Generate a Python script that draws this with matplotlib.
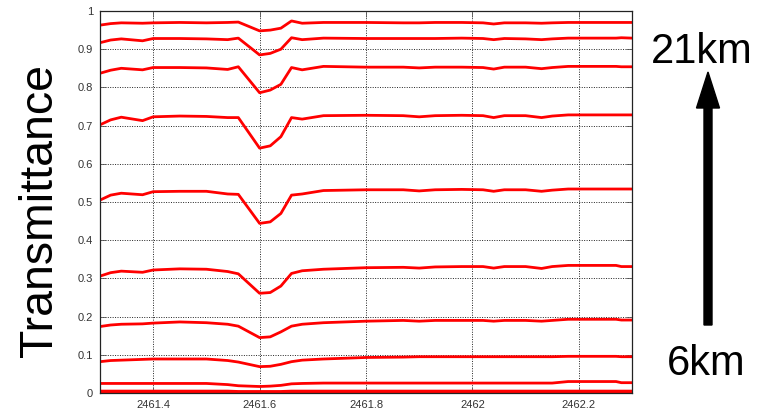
import matplotlib
matplotlib.use("Agg")
import matplotlib.pyplot as plt
from matplotlib.patches import FancyArrow

plt.rcParams['font.family'] = ['Liberation Sans', 'DejaVu Sans']

# wavenumber samples (shared by all curves)
wn = [2461.30, 2461.32, 2461.34, 2461.38, 2461.40, 2461.45, 2461.50, 2461.54,
      2461.56, 2461.60, 2461.62, 2461.64, 2461.66, 2461.68, 2461.72, 2461.80,
      2461.87, 2461.90, 2461.93, 2461.98, 2462.02, 2462.04, 2462.06, 2462.10,
      2462.13, 2462.15, 2462.18, 2462.27, 2462.28, 2462.30]

# transmittance curves, highest altitude first
t10 = [0.963, 0.967, 0.969, 0.968, 0.969, 0.970, 0.969, 0.970, 0.971, 0.948,
       0.950, 0.955, 0.974, 0.968, 0.970, 0.970, 0.969, 0.969, 0.970, 0.970,
       0.969, 0.966, 0.969, 0.969, 0.968, 0.969, 0.970, 0.970, 0.970, 0.970]
t9 = [0.917, 0.924, 0.927, 0.922, 0.928, 0.928, 0.927, 0.925, 0.929, 0.885,
      0.889, 0.900, 0.930, 0.925, 0.929, 0.928, 0.928, 0.928, 0.928, 0.929,
      0.928, 0.925, 0.928, 0.927, 0.925, 0.927, 0.929, 0.929, 0.930, 0.929]
t8 = [0.837, 0.845, 0.850, 0.846, 0.852, 0.852, 0.851, 0.847, 0.854, 0.786,
      0.793, 0.808, 0.852, 0.846, 0.855, 0.853, 0.853, 0.851, 0.853, 0.853,
      0.852, 0.848, 0.853, 0.853, 0.849, 0.852, 0.855, 0.855, 0.854, 0.854]
t7 = [0.702, 0.715, 0.722, 0.713, 0.723, 0.725, 0.724, 0.721, 0.721, 0.641,
      0.647, 0.671, 0.721, 0.717, 0.726, 0.727, 0.726, 0.723, 0.726, 0.727,
      0.726, 0.721, 0.726, 0.726, 0.721, 0.725, 0.728, 0.728, 0.728, 0.728]
t6 = [0.505, 0.518, 0.523, 0.519, 0.527, 0.528, 0.528, 0.521, 0.520, 0.444,
      0.448, 0.470, 0.518, 0.521, 0.530, 0.532, 0.532, 0.529, 0.532, 0.533,
      0.532, 0.528, 0.532, 0.532, 0.528, 0.531, 0.534, 0.534, 0.534, 0.534]
t5 = [0.306, 0.315, 0.319, 0.316, 0.322, 0.325, 0.324, 0.318, 0.312, 0.261,
      0.263, 0.280, 0.313, 0.320, 0.324, 0.328, 0.329, 0.327, 0.330, 0.331,
      0.331, 0.327, 0.331, 0.331, 0.326, 0.331, 0.334, 0.334, 0.331, 0.331]
t4 = [0.174, 0.178, 0.180, 0.181, 0.183, 0.186, 0.184, 0.180, 0.175, 0.145,
      0.147, 0.160, 0.175, 0.180, 0.184, 0.188, 0.190, 0.188, 0.190, 0.190,
      0.190, 0.188, 0.190, 0.190, 0.188, 0.190, 0.193, 0.193, 0.191, 0.191]
t3 = [0.082, 0.085, 0.086, 0.088, 0.089, 0.089, 0.089, 0.085, 0.081, 0.069,
      0.070, 0.075, 0.082, 0.086, 0.089, 0.093, 0.094, 0.095, 0.095, 0.095,
      0.095, 0.095, 0.095, 0.095, 0.095, 0.095, 0.096, 0.096, 0.095, 0.095]
t2 = [0.025, 0.025, 0.025, 0.025, 0.025, 0.025, 0.025, 0.022, 0.019, 0.017,
      0.018, 0.020, 0.024, 0.025, 0.026, 0.026, 0.026, 0.026, 0.026, 0.026,
      0.026, 0.026, 0.026, 0.026, 0.026, 0.026, 0.030, 0.030, 0.027, 0.027]
t1 = [0.005, 0.005, 0.005, 0.005, 0.005, 0.005, 0.005, 0.005, 0.004, 0.004,
      0.004, 0.004, 0.005, 0.005, 0.005, 0.005, 0.005, 0.005, 0.005, 0.005,
      0.005, 0.005, 0.005, 0.005, 0.005, 0.005, 0.005, 0.005, 0.005, 0.005]
t0 = [0.002] * len(wn)

curves = [t10, t9, t8, t7, t6, t5, t4, t3, t2, t1, t0]

xticks = [2461.4, 2461.6, 2461.8, 2462.0, 2462.2]
xticklabels = ["2461.4", "2461.6", "2461.8", "2462", "2462.2"]
yticks = [0, 0.1, 0.2, 0.3, 0.4, 0.5, 0.6, 0.7, 0.8, 0.9, 1]
yticklabels = ["0", "0.1", "0.2", "0.3", "0.4", "0.5", "0.6", "0.7", "0.8", "0.9", "1"]

fig = plt.figure(figsize=(7.6, 4.11), dpi=100)
ax = fig.add_axes([100 / 760, 18 / 411, 532 / 760, 382 / 411])

for c in curves:
    ax.plot(wn, c, color='#ff0000', lw=2.0, solid_joinstyle='round')

ax.set_xlim(2461.3, 2462.3)
ax.set_ylim(0, 1)
ax.set_xticks(xticks)
ax.set_xticklabels(xticklabels)
ax.set_yticks(yticks)
ax.set_yticklabels(yticklabels)
ax.grid(True, color='#222222', linestyle=(0, (1, 1.5)), linewidth=0.7)
ax.tick_params(direction='in', length=4, width=0.6, top=True, right=True,
               labelsize=8, labelcolor='#333333', color='#555555', pad=5)
for s in ax.spines.values():
    s.set_linewidth(0.9)
    s.set_color('#222222')

fig.text(40 / 760, 0.489, "Transmittance", rotation=90, fontsize=33.5,
         ha='center', va='center')

arrow = FancyArrow(7.08, 0.86, 0, 2.53, width=0.08, head_width=0.23,
                   head_length=0.36, length_includes_head=True,
                   color='black', transform=fig.dpi_scale_trans)
fig.patches.append(arrow)

fig.text(701.7 / 760, (411 - 62.7) / 411, "21km", fontsize=30,
         ha='center', va='baseline')
fig.text(706 / 760, (411 - 375) / 411, "6km", fontsize=30,
         ha='center', va='baseline')

fig.savefig("out.png", dpi=100)
